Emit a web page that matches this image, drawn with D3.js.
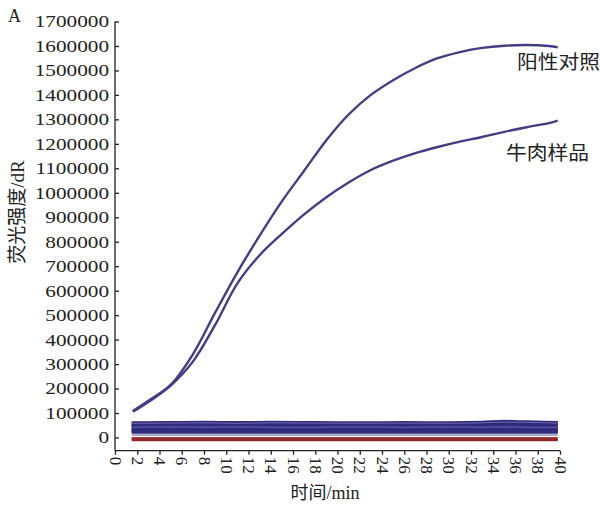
<!DOCTYPE html>
<html>
<head>
<meta charset="utf-8">
<script src="https://cdn.jsdelivr.net/npm/d3@7"></script>
<style>
  body { margin: 0; background: #fff; }
  text { font-family: "Liberation Serif", "Noto Sans CJK SC", serif; fill: #222; }
</style>
</head>
<body>
<svg id="canvas"></svg>
<script>
// Canvas size
var canvasWidth = 600;
var canvasHeight = 505;

// Plot box
var plot = { left: 115, right: 560, top: 21.5, bottom: 450.7 };

// Amplification curves (time in min)
var curveTimes = [1.6, 3, 5, 7, 9, 11, 13, 15, 17, 19, 21, 23, 25, 27, 29, 31, 33, 35, 37, 39, 39.8];
var positiveValues = [108000, 150000, 215000, 340000, 510000, 675000, 825000, 965000, 1090000, 1215000, 1320000, 1400000, 1460000, 1510000, 1550000, 1575000, 1592000, 1601000, 1604000, 1600000, 1595000];
var beefValues = [105000, 145000, 212000, 310000, 460000, 630000, 745000, 832000, 912000, 982000, 1042000, 1093000, 1131000, 1162000, 1187000, 1209000, 1228000, 1249000, 1268000, 1285000, 1295000];
var curveLabels = ['阳性对照', '牛肉样品'];

// Negative / blank traces near baseline
var flatTimes = [1.5, 5, 8, 11, 14, 18, 22, 26, 30, 33, 35, 37, 39.8];
var blueTraces = [
  [60000, 61000, 62000, 61000, 62000, 61000, 60000, 61000, 60000, 62000, 66000, 64000, 61000],
  [55000, 56000, 55000, 57000, 56000, 55000, 56000, 55000, 56000, 57000, 59000, 58000, 56000],
  [50000, 50000, 51000, 50000, 51000, 50000, 50000, 51000, 50000, 51000, 52000, 51000, 50000],
  [45000, 45000, 45000, 46000, 45000, 45000, 46000, 45000, 45000, 46000, 46000, 45000, 45000],
  [40000, 40000, 41000, 40000, 40000, 41000, 40000, 40000, 41000, 40000, 40000, 41000, 40000],
  [35000, 35000, 35000, 36000, 35000, 35000, 35000, 36000, 35000, 35000, 36000, 35000, 35000],
  [30000, 30000, 31000, 30000, 30000, 30000, 31000, 30000, 30000, 31000, 30000, 30000, 30000],
  [25000, 25000, 25000, 25000, 26000, 25000, 25000, 25000, 26000, 25000, 25000, 25000, 25000],
  [21000, 21000, 21000, 21000, 21000, 21000, 21000, 21000, 21000, 21000, 21000, 21000, 21000]
];
var lightTraces = [
  [58000, 59000, 60000, 58000, 60000, 59000, 58000, 59000, 58000, 60000, 63000, 62000, 59000],
  [42000, 43000, 42000, 43000, 42000, 42000, 43000, 42000, 43000, 42000, 43000, 42000, 42000]
];
var greyTrace = [10000, 10000, 10000, 10000, 10000, 10000, 10000, 10000, 10000, 10000, 10000, 10000, 10000];
var redTraces = [
  [-4000, -4000, -4000, -4000, -4000, -4000, -4000, -4000, -4000, -4000, -4000, -4000, -4000],
  [-9000, -9000, -9000, -9000, -9000, -9000, -9000, -9000, -9000, -9000, -9000, -9000, -9000]
];

// Tick values
var xTicks = d3.range(0, 41, 2);
var yTicks = d3.range(0, 1700001, 100000);

var svg = d3.select('#canvas')
  .attr('width', canvasWidth)
  .attr('height', canvasHeight);

// Scales
var xScale = d3.scaleLinear()
  .domain([0, 40])
  .range([plot.left, plot.right]);

var yScale = d3.scaleLinear()
  .domain([-54000, 1700000])
  .range([plot.bottom, plot.top]);

function traceLine(times, curve) {
  return d3.line()
    .x(function(d, i) { return xScale(times[i]); })
    .y(function(d) { return yScale(d); })
    .curve(curve);
}

var flatLine = traceLine(flatTimes, d3.curveMonotoneX);
var ampLine = traceLine(curveTimes, d3.curveCatmullRom.alpha(0.5));

// Baseline traces
var traces = svg.append('g').attr('class', 'traces');

redTraces.forEach(function(vals, i) {
  traces.append('path')
    .attr('d', flatLine(vals))
    .attr('fill', 'none')
    .attr('stroke', i === 0 ? '#b33a3a' : '#8e2b2b')
    .attr('stroke-width', 3);
});

traces.append('path')
  .attr('d', flatLine(greyTrace))
  .attr('fill', 'none')
  .attr('stroke', '#8d8db0')
  .attr('stroke-width', 1.6);

blueTraces.forEach(function(vals) {
  traces.append('path')
    .attr('d', flatLine(vals))
    .attr('fill', 'none')
    .attr('stroke', '#302b7e')
    .attr('stroke-width', 3);
});

lightTraces.forEach(function(vals) {
  traces.append('path')
    .attr('d', flatLine(vals))
    .attr('fill', 'none')
    .attr('stroke', '#7c7ab0')
    .attr('stroke-width', 0.8);
});

// Amplification curves
[positiveValues, beefValues].forEach(function(vals) {
  svg.append('path')
    .attr('d', ampLine(vals))
    .attr('fill', 'none')
    .attr('stroke', '#433d82')
    .attr('stroke-width', 2.4);
});

// Axes
var xAxis = d3.axisBottom(xScale)
  .tickValues(xTicks)
  .tickFormat(d3.format('d'))
  .tickSizeInner(4)
  .tickSizeOuter(0);

var yAxis = d3.axisLeft(yScale)
  .tickValues(yTicks)
  .tickFormat(d3.format('d'))
  .tickSizeInner(-4)
  .tickSizeOuter(0)
  .tickPadding(6);

var gx = svg.append('g')
  .attr('transform', 'translate(0,' + plot.bottom + ')')
  .call(xAxis);

gx.select('.domain').attr('d', 'M' + plot.left + ',0H' + plot.right);

gx.selectAll('.tick text')
  .attr('x', 6)
  .attr('y', 0)
  .attr('dy', '0.35em')
  .attr('transform', 'rotate(90)')
  .style('text-anchor', 'start')
  .style('font-size', '17px');

var gy = svg.append('g')
  .attr('transform', 'translate(' + plot.left + ',0)')
  .call(yAxis);

gy.select('.domain').attr('d', 'M0,' + plot.bottom + 'V' + plot.top);

gy.selectAll('.tick text')
  .attr('x', -6)
  .style('font-size', '17px')
  .attr('textLength', function() { return this.getComputedTextLength() * 1.25; })
  .attr('lengthAdjust', 'spacingAndGlyphs');

svg.selectAll('.domain, .tick line')
  .attr('stroke', '#222')
  .attr('stroke-width', 1.3);

// Curve labels
svg.append('text')
  .attr('x', 517)
  .attr('y', 69)
  .style('font-size', '19px')
  .text(curveLabels[0])
  .attr('textLength', 83)
  .attr('lengthAdjust', 'spacingAndGlyphs');

svg.append('text')
  .attr('x', 506)
  .attr('y', 160)
  .style('font-size', '19px')
  .text(curveLabels[1])
  .attr('textLength', 83)
  .attr('lengthAdjust', 'spacingAndGlyphs');

// Axis titles
svg.append('text')
  .attr('x', 325)
  .attr('y', 499)
  .attr('text-anchor', 'middle')
  .style('font-size', '18px')
  .text('时间/min');

svg.append('text')
  .attr('transform', 'translate(24,212) rotate(-90)')
  .attr('text-anchor', 'middle')
  .style('font-size', '19px')
  .text('荧光强度/dR');

// Panel letter
svg.append('text')
  .attr('x', 8)
  .attr('y', 22)
  .style('font-size', '18px')
  .text('A');
</script>
</body>
</html>
